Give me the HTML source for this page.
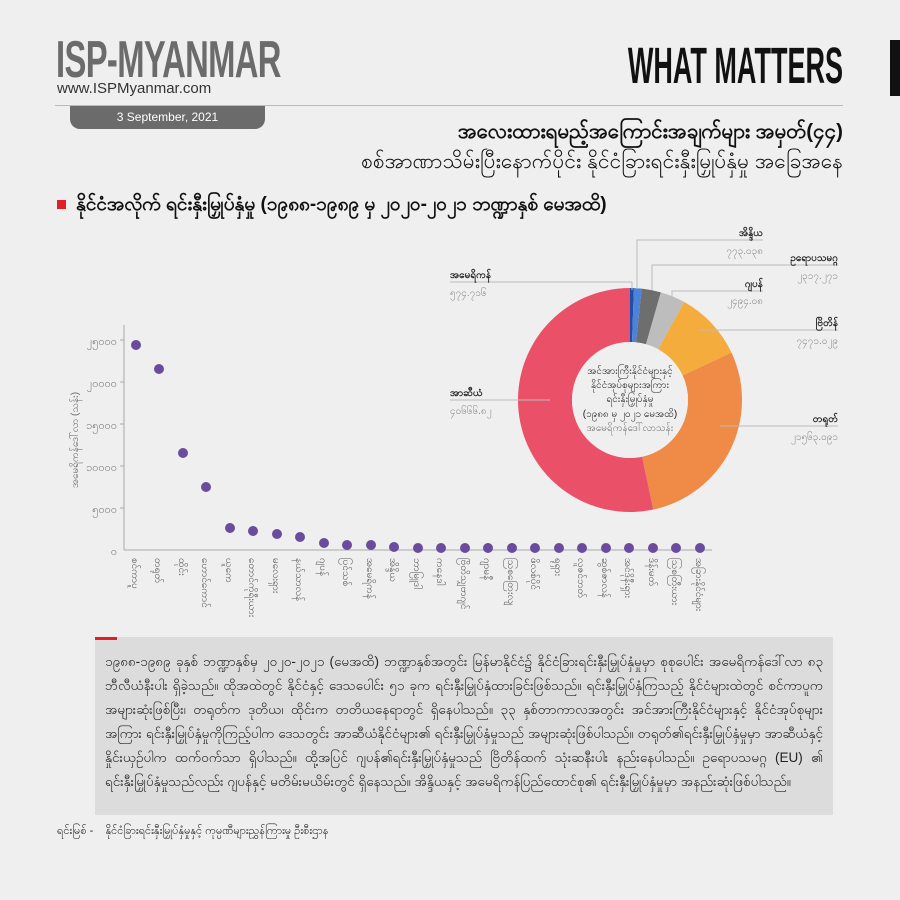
<!DOCTYPE html>
<html><head><meta charset="utf-8">
<style>
html,body{margin:0;padding:0;background:#efefef;}
body{width:900px;height:900px;position:relative;overflow:hidden;font-family:"Liberation Sans",sans-serif;}
.abs{position:absolute;white-space:nowrap;}
.my{font-family:"Liberation Sans","Noto Sans CJK SC",sans-serif;}
</style></head><body>
<div class="abs" style="left:56px;top:30px;font-size:52px;font-weight:bold;color:#6b6b6b;transform:scaleX(0.63);transform-origin:left;letter-spacing:-1px;">ISP-MYANMAR</div>
<div class="abs" style="left:57px;top:80px;font-size:15px;color:#333;">www.ISPMyanmar.com</div>
<div class="abs" style="left:55px;top:105px;width:788px;height:1px;background:#bbb;"></div>
<div class="abs" style="left:70px;top:106px;width:195px;height:23px;background:#6b6b6b;border-radius:0 0 10px 10px;color:#fff;font-size:12px;text-align:center;line-height:22px;">3 September, 2021</div>
<div class="abs" style="right:57px;top:36px;font-size:51px;font-weight:bold;color:#111;transform:scaleX(0.53);transform-origin:right;">WHAT MATTERS</div>
<div class="abs" style="left:890px;top:40px;width:10px;height:56px;background:#111;"></div>
<div class="abs my" style="right:57px;top:119px;font-size:20.5px;font-weight:bold;color:#111;">အလေးထားရမည့်အကြောင်းအချက်များ အမှတ်(၄၄)</div>
<div class="abs my" style="right:57px;top:148px;font-size:21px;color:#111;">စစ်အာဏာသိမ်းပြီးနောက်ပိုင်း နိုင်ငံခြားရင်းနှီးမြှုပ်နှံမှု အခြေအနေ</div>
<div class="abs" style="left:57px;top:200px;width:9px;height:9px;background:#e31e24;"></div>
<div class="abs my" style="left:76px;top:192px;font-size:19px;font-weight:bold;color:#111;">နိုင်ငံအလိုက် ရင်းနှီးမြှုပ်နှံမှု (၁၉၈၈-၁၉၈၉ မှ ၂၀၂၀-၂၀၂၁ ဘဏ္ဍာနှစ် မေအထိ)</div>

<svg class="abs" style="left:0;top:0" width="900" height="900">
 <g stroke="#aaa" stroke-width="1">
  <line x1="124" y1="325" x2="124" y2="550"/><line x1="124" y1="550" x2="712" y2="550"/>
  <line x1="120" y1="340" x2="124" y2="340"/><line x1="120" y1="382" x2="124" y2="382"/><line x1="120" y1="424" x2="124" y2="424"/><line x1="120" y1="466" x2="124" y2="466"/><line x1="120" y1="508" x2="124" y2="508"/>
 </g>
 <g font-size="11" fill="#777" text-anchor="end" font-family="Liberation Sans, sans-serif">
  <text x="117" y="345">၂၅၀၀၀</text><text x="117" y="387">၂၀၀၀၀</text><text x="117" y="429">၁၅၀၀၀</text><text x="117" y="471">၁၀၀၀၀</text><text x="117" y="513">၅၀၀၀</text><text x="117" y="555">၀</text>
 </g>
 <text transform="translate(78,440) rotate(-90)" font-size="10" fill="#666" text-anchor="middle">အမေရိကန်ဒေါ်လာ (သန်း)</text>
 <g fill="#6a4c9c">
  <circle cx="136" cy="345" r="5"/><circle cx="159" cy="369" r="5"/><circle cx="183" cy="453" r="5"/><circle cx="206" cy="487" r="5"/>
  <circle cx="230" cy="528" r="5"/><circle cx="253" cy="531" r="5"/><circle cx="277" cy="534" r="5"/><circle cx="300" cy="537" r="5"/>
  <circle cx="324" cy="543" r="5"/><circle cx="347" cy="545" r="5"/><circle cx="371" cy="545" r="5"/><circle cx="394" cy="547" r="5"/>
  <circle cx="418" cy="548" r="5"/><circle cx="441" cy="548" r="5"/><circle cx="465" cy="548" r="5"/><circle cx="488" cy="548" r="5"/>
  <circle cx="512" cy="548" r="5"/><circle cx="535" cy="548" r="5"/><circle cx="559" cy="548" r="5"/><circle cx="582" cy="548" r="5"/>
  <circle cx="606" cy="548" r="5"/><circle cx="629" cy="548" r="5"/><circle cx="653" cy="548" r="5"/><circle cx="676" cy="548" r="5"/><circle cx="700" cy="548" r="5"/>
 </g>
 <g font-size="10" fill="#555">
  <text transform="translate(132,558) rotate(90)">စင်ကာပူ</text>
  <text transform="translate(155,558) rotate(90)">တရုတ်</text>
  <text transform="translate(179,558) rotate(90)">ထိုင်း</text>
  <text transform="translate(202,558) rotate(90)">ဟောင်ကောင်</text>
  <text transform="translate(226,558) rotate(90)">ယူကေ</text>
  <text transform="translate(249,558) rotate(90)">တောင်ကိုရီးယား</text>
  <text transform="translate(273,558) rotate(90)">မလေးရှား</text>
  <text transform="translate(296,558) rotate(90)">နယ်သာလန်</text>
  <text transform="translate(320,558) rotate(90)">ဂျပန်</text>
  <text transform="translate(343,558) rotate(90)">ပြင်သစ်</text>
  <text transform="translate(367,558) rotate(90)">အမေရိကန်</text>
  <text transform="translate(390,558) rotate(90)">အိန္ဒိယ</text>
  <text transform="translate(414,558) rotate(90)">ဘာမြူဒါ</text>
  <text transform="translate(437,558) rotate(90)">ကနေဒါ</text>
  <text transform="translate(461,558) rotate(90)">ဗြိတိသျှဗာဂျင်</text>
  <text transform="translate(484,558) rotate(90)">ဂျာမနီ</text>
  <text transform="translate(508,558) rotate(90)">ဩစတြေးလျ</text>
  <text transform="translate(531,558) rotate(90)">ဖိလစ်ပိုင်</text>
  <text transform="translate(555,558) rotate(90)">ရုရှား</text>
  <text transform="translate(578,558) rotate(90)">လူဇင်ဘတ်</text>
  <text transform="translate(602,558) rotate(90)">ဆွစ်ဇာလန်</text>
  <text transform="translate(625,558) rotate(90)">အင်ဒိုနီးရှား</text>
  <text transform="translate(649,558) rotate(90)">ဒိန်းမတ်</text>
  <text transform="translate(672,558) rotate(90)">သြစတြီးယား</text>
  <text transform="translate(696,558) rotate(90)">အခြားနိုင်ငံများ</text>
 </g>

 <g id="donut"></g>
 <g stroke="#bbb" stroke-width="1" fill="none">
  <polyline points="637,289 637,240 763,240"/>
  <polyline points="652,290 652,265 838,265"/>
  <polyline points="672,298 672,291 763,291"/>
  <polyline points="700,330 838,330"/>
  <polyline points="720,426 838,426"/>
  <polyline points="450,282 632,282 632,290"/>
  <polyline points="450,400 550,400"/>
 </g>
 <g font-size="10" font-weight="bold" fill="#222" text-anchor="end">
  <text x="763" y="236">အိန္ဒိယ</text><text x="838" y="261">ဥရောပသမဂ္ဂ</text><text x="763" y="287">ဂျပန်</text><text x="838" y="326">ဗြိတိန်</text><text x="838" y="422">တရုတ်</text>
 </g>
 <g font-size="10" fill="#888" text-anchor="end">
  <text x="763" y="254">၇၇၃.၀၃၈</text><text x="838" y="279">၂၃၁၇.၂၇၁</text><text x="763" y="304">၂၄၉၄.၀၈</text><text x="838" y="344">၇၄၇၁.၀၂၉</text><text x="838" y="440">၂၁၅၆၃.၀၉၁</text>
 </g>
 <g font-size="10"><text x="450" y="278" font-weight="bold" fill="#222">အမေရိကန်</text><text x="450" y="296" fill="#888">၅၇၄.၇၁၆</text>
 <text x="450" y="396" font-weight="bold" fill="#222">အာဆီယံ</text><text x="450" y="414" fill="#888">၄၀၆၆၆.၈၂</text></g>
 <g font-size="10" fill="#222" text-anchor="middle">
  <text x="630" y="374">အင်အားကြီးနိုင်ငံများနှင့်</text>
  <text x="630" y="388">နိုင်ငံအုပ်စုများအကြား</text>
  <text x="630" y="402">ရင်းနှီးမြှုပ်နှံမှု</text>
  <text x="630" y="417">(၁၉၈၈ မှ ၂၀၂၁ မေအထိ)</text>
  <text x="630" y="431" fill="#777">အမေရိကန်ဒေါ်လာသန်း</text>
 </g>
</svg>

<div class="abs" style="left:95px;top:637px;width:738px;height:178px;background:#dcdcdc;"></div>
<div class="abs" style="left:95px;top:637px;width:22px;height:3px;background:#e31e24;"></div>
<div class="abs my" style="left:105px;top:650px;width:718px;font-size:13.5px;line-height:24px;color:#222;white-space:normal;text-align:justify;">
၁၉၈၈-၁၉၈၉ ခုနှစ် ဘဏ္ဍာနှစ်မှ ၂၀၂၀-၂၀၂၁ (မေအထိ) ဘဏ္ဍာနှစ်အတွင်း မြန်မာနိုင်ငံ၌ နိုင်ငံခြားရင်းနှီးမြှုပ်နှံမှုမှာ စုစုပေါင်း အမေရိကန်ဒေါ်လာ ၈၃ ဘီလီယံနီးပါး ရှိခဲ့သည်။ ထိုအထဲတွင် နိုင်ငံနှင့် ဒေသပေါင်း ၅၁ ခုက ရင်းနှီးမြှုပ်နှံထားခြင်းဖြစ်သည်။ ရင်းနှီးမြှုပ်နှံကြသည့် နိုင်ငံများထဲတွင် စင်ကာပူက အများဆုံးဖြစ်ပြီး၊ တရုတ်က ဒုတိယ၊ ထိုင်းက တတိယနေရာတွင် ရှိနေပါသည်။ ၃၃ နှစ်တာကာလအတွင်း အင်အားကြီးနိုင်ငံများနှင့် နိုင်ငံအုပ်စုများအကြား ရင်းနှီးမြှုပ်နှံမှုကိုကြည့်ပါက ဒေသတွင်း အာဆီယံနိုင်ငံများ၏ ရင်းနှီးမြှုပ်နှံမှုသည် အများဆုံးဖြစ်ပါသည်။ တရုတ်၏ရင်းနှီးမြှုပ်နှံမှုမှာ အာဆီယံနှင့်နှိုင်းယှဉ်ပါက ထက်ဝက်သာ ရှိပါသည်။ ထို့အပြင် ဂျပန်၏ရင်းနှီးမြှုပ်နှံမှုသည် ဗြိတိန်ထက် သုံးဆနီးပါး နည်းနေပါသည်။ ဥရောပသမဂ္ဂ (EU) ၏ ရင်းနှီးမြှုပ်နှံမှုသည်လည်း ဂျပန်နှင့် မတိမ်းမယိမ်းတွင် ရှိနေသည်။ အိန္ဒိယနှင့် အမေရိကန်ပြည်ထောင်စု၏ ရင်းနှီးမြှုပ်နှံမှုမှာ အနည်းဆုံးဖြစ်ပါသည်။
</div>
<div class="abs my" style="left:57px;top:824px;font-size:11px;color:#222;">ရင်းမြစ် -&nbsp;&nbsp;&nbsp;&nbsp;နိုင်ငံခြားရင်းနှီးမြှုပ်နှံမှုနှင့် ကုမ္ပဏီများညွှန်ကြားမှု ဦးစီးဌာန</div>

<script>
(function(){
 var cx=630,cy=400,R=112,r=58;
 var segs=[[0,2,'#1f4ea8'],[2,6,'#4d82d8'],[6,16,'#6e6e6e'],[16,29,'#bdbdbd'],[29,65,'#f4ad3d'],[65,168,'#ef8a47'],[168,360,'#ea5168']];
 function p(a,rad){var t=(a-90)*Math.PI/180;return [cx+rad*Math.cos(t),cy+rad*Math.sin(t)];}
 var g=document.getElementById('donut'),h='';
 segs.forEach(function(s){var a0=s[0],a1=s[1],l=(a1-a0)>180?1:0;
  var A=p(a0,R),B=p(a1,R),C=p(a1,r),D=p(a0,r);
  h+='<path fill="'+s[2]+'" d="M'+A+' A'+R+','+R+' 0 '+l+' 1 '+B+' L'+C+' A'+r+','+r+' 0 '+l+' 0 '+D+' Z"/>';});
 h+='<circle cx="'+cx+'" cy="'+cy+'" r="'+r+'" fill="#efefef"/>';
 g.innerHTML=h;
})();
</script>
</body></html>
